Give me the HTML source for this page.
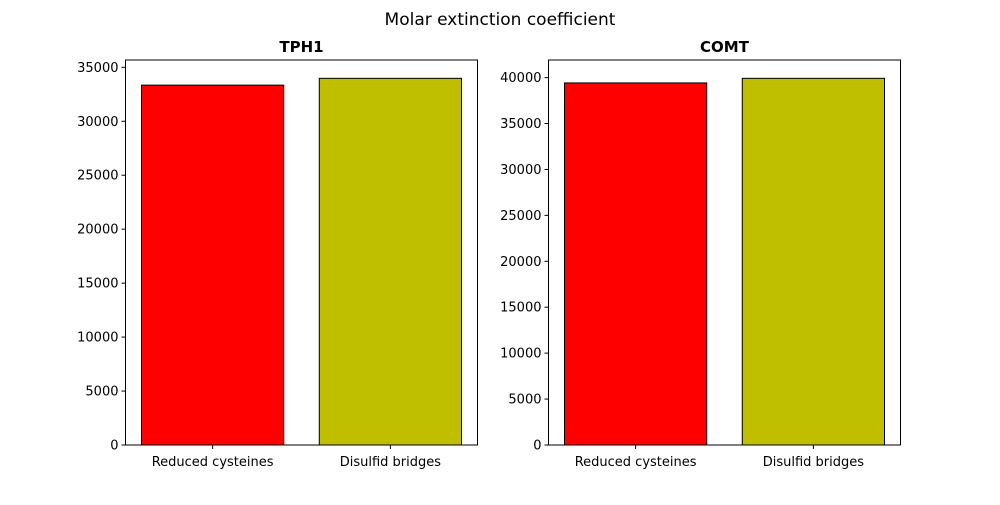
<!DOCTYPE html>
<html><head><meta charset="utf-8"><style>
body{margin:0;background:#fff;}
svg text{font-family:"DejaVu Sans","Liberation Sans",sans-serif;}
</style></head><body>
<svg id="c" width="1000" height="500">
<text x="500" y="25" font-size="17" text-anchor="middle">Molar extinction coefficient</text>
</svg>
<script>
const categories = ["Reduced cysteines", "Disulfid bridges"];
const tph1Values = [33350, 33980];
const comtValues = [39420, 39920];
const tph1Ticks = [0,5000,10000,15000,20000,25000,30000,35000];
const comtTicks = [0,5000,10000,15000,20000,25000,30000,35000,40000];
const colors = ["#ff0000", "#bfbf00"];
const NS = "http://www.w3.org/2000/svg";
const svg = document.getElementById('c');
function mk(tag, attrs, parent){const e=document.createElementNS(NS,tag);for(const k in attrs)e.setAttribute(k,attrs[k]);(parent||svg).appendChild(e);return e;}
function panel(left, title, values, ticks, key){
  const right=left+352, top=60, bottom=445;
  const g=mk('g',{});
  
  
  const ymax=Math.max(...values)*1.05;
  const y=v=>bottom-(v/ymax)*(bottom-top);
  const xmin=-0.49, xmax=categories.length-1+0.49;
  const x=v=>left+(v-xmin)/(xmax-xmin)*(right-left);
  values.forEach((v,i)=>{
    const r=mk('rect',{x:x(i-0.4),y:y(v),width:x(i+0.4)-x(i-0.4),height:bottom-y(v),fill:colors[i%colors.length],stroke:'#000','stroke-width':1},g);
    
    
    mk('line',{x1:x(i),x2:x(i),y1:bottom,y2:bottom+4,stroke:'#000'},g);
    const l=mk('text',{x:x(i),y:bottom+21,'font-size':13,'text-anchor':'middle'},g);
    l.textContent=categories[i];
    
    
  });
  ticks.forEach(tv=>{
    const yy=y(tv);
    mk('line',{x1:left-4,x2:left,y1:yy,y2:yy,stroke:'#000'},g);
    const l=mk('text',{x:left-7,y:yy+4.5,'font-size':13,'text-anchor':'end'},g);
    l.textContent=tv;
    
    
  });
  mk('rect',{x:left,y:top,width:right-left,height:bottom-top,fill:'none',stroke:'#000','stroke-width':1},g);
  const tt=mk('text',{x:(left+right)/2,y:top-8,'font-size':15,'font-weight':'bold','text-anchor':'middle'},g);
  tt.textContent=title;
  
  
}
panel(125.5,'TPH1',tph1Values,tph1Ticks,'tph1');
panel(548.5,'COMT',comtValues,comtTicks,'comt');
</script>
</body></html>
